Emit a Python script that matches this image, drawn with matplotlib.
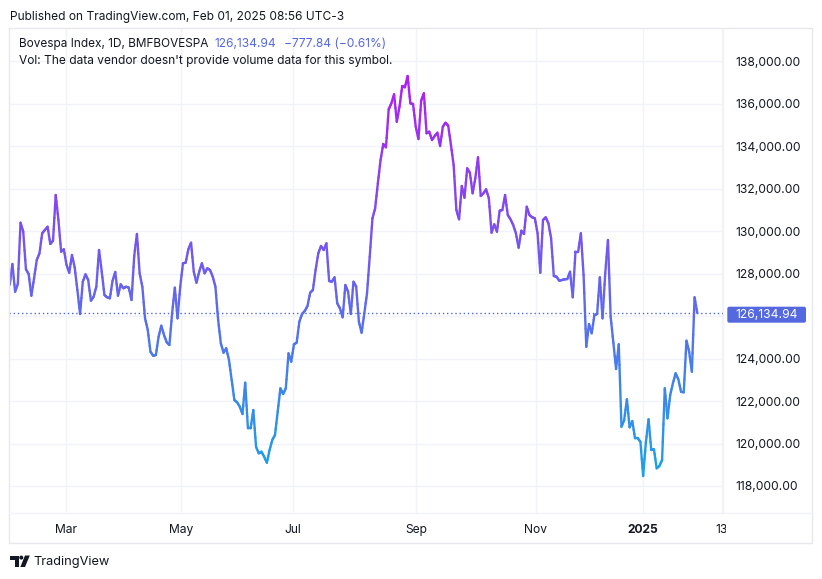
import numpy as np
import matplotlib
matplotlib.use("Agg")
import matplotlib.pyplot as plt
from matplotlib.collections import LineCollection
from matplotlib.colors import LinearSegmentedColormap, Normalize
from matplotlib.patches import Rectangle, FancyBboxPatch, Circle, Polygon
from matplotlib.transforms import Bbox, TransformedBbox, blended_transform_factory

# ---------------- data (daily closes, Bovespa, Feb 2024 - Jan 2025) ----------------
close_feb_apr = [
    127460, 128447, 127143, 127506, 130390, 129967, 128197, 127976, 126955, 127774,
    128635, 128950, 129892, 130047, 130202, 129388, 129543, 131694, 130517, 129026,
    129139, 128400, 128037, 128870, 128292, 127223, 126094, 127614, 127962, 127694,
    126720, 126908, 127379, 129106, 128084, 126988, 126880, 126833, 127661, 128070,
    126955, 127491, 127303, 127379, 127332, 126753, 128823, 129859, 128009, 127379,
    125891, 125341, 124320, 124131, 124164, 125026, 125543, 125106, 124762, 124635,
    126127, 127332, 125891, 127379,
]
close_may_jul = [
    128480, 128508, 129139, 129449, 128084, 127567, 128084, 128480, 128009, 128244,
    128164, 127849, 127379, 125811, 124715, 124273, 124480, 123929, 122988, 122047,
    121938, 121731, 121388, 122861, 120715, 120715, 121576, 119849, 119538, 119614,
    119378, 119096, 119694, 120164, 120400, 121496, 122597, 122329, 122597, 124244,
    123849, 124668, 124743, 125731, 126094, 126235, 126470, 127096, 127223, 128164,
    128950, 129294, 129106, 129421, 127647, 127614, 127821, 126597, 126362, 125938,
    127459, 127143, 126094, 127614,
]
close_aug_oct = [
    127379, 125731, 125214, 126127, 127068, 128790, 130597, 131068, 132245, 133341,
    134094, 133939, 135727, 136009, 136433, 135143, 135849, 136823, 136762, 137294,
    136009, 135976, 134908, 134329, 136132, 136480, 134598, 134673, 134282, 134470,
    134626, 134000, 134908, 135096, 134955, 134047, 133106, 130988, 130550, 132117,
    131567, 132950, 132743, 131774, 132480, 133468, 131647, 131774, 131962, 131539,
    129920, 130315, 129967, 130955, 130988, 131694, 130753, 130550, 130282, 129892,
    129214, 130014, 129859, 131143,
]
close_nov_jan = [
    130753, 130645, 130597, 129892, 128037, 130517, 130645, 130362, 129656, 127882,
    127849, 127661, 127694, 127727, 127741, 128084, 126880, 129026, 129026, 129892,
    127929, 124555, 125623, 125186, 126047, 126094, 127821, 125891, 128009, 129576,
    125967, 124743, 123506, 124668, 120790, 121105, 122080, 120762, 121058, 120244,
    120244, 120084, 118470, 120037, 121138, 119694, 119727, 118832, 118941, 119223,
    122597, 121185, 122282, 122833, 123303, 123021, 122437, 122409, 124837, 124320,
    123378, 126880, 126134.94,
]
close = close_feb_apr + close_may_jul + close_aug_oct + close_nov_jan

price_ticks = [118000, 120000, 122000, 124000, 126000, 128000,
               130000, 132000, 134000, 136000, 138000]
time_tick_bars = [20.8, 63.3, 104.7, 150.1, 194.4, 233.9, 263.1]
time_tick_labels = ["Mar", "May", "Jul", "Sep", "Nov", "2025", "13"]
last_price = 126134.94
change = -777.84
change_pct = -0.61

# ---------------- styling ----------------
W, H = 822, 579
FONT = ["Inter", "DejaVu Sans"]
plt.rcParams["font.family"] = FONT
TXT = "#131722"
GRID = "#f0f3fa"
BORDER = "#e6e8ee"
BLUE = "#5468e0"

fig = plt.figure(figsize=(W / 100, H / 100), dpi=100)
fig.patch.set_facecolor("white")

plot_l, plot_r, plot_t, plot_b = 9.0, 722.7, 28.0, 513.0
ax = fig.add_axes([plot_l / W, 1 - plot_b / H, (plot_r - plot_l) / W, (plot_b - plot_t) / H])
ax.set_facecolor("white")
for s in ax.spines.values():
    s.set_visible(False)

px_per_1000 = 21.25
ax.set_ylim(138000 - (plot_b - 61) / px_per_1000 * 1000,
            138000 + (61 - plot_t) / px_per_1000 * 1000)
bar_px = 2.707
ax.set_xlim((plot_l - 9.7) / bar_px, (plot_r - 9.7) / bar_px)

# grid
for v in price_ticks:
    ax.axhline(v, color=GRID, lw=1, zorder=0)
for b in time_tick_bars:
    ax.axvline(b, color=GRID, lw=1, zorder=0)

# gradient line
vals = np.asarray(close, dtype=float)
xs = np.arange(len(vals), dtype=float)
sub = 4
xx, yy = [], []
for i in range(len(vals) - 1):
    t = np.linspace(0, 1, sub, endpoint=False)
    xx.extend(xs[i] + t)
    yy.extend(vals[i] + (vals[i + 1] - vals[i]) * t)
xx.append(xs[-1]); yy.append(vals[-1])
xx = np.array(xx); yy = np.array(yy)
pts = np.column_stack([xx, yy]).reshape(-1, 1, 2)
segs = np.concatenate([pts[:-1], pts[1:]], axis=1)
cmap = LinearSegmentedColormap.from_list("tv", ["#1aa3e8", "#6a5ff0", "#b01ef2"])
norm = Normalize(vmin=vals.min(), vmax=vals.max())
mid = (yy[:-1] + yy[1:]) / 2
lc = LineCollection(segs, colors=cmap(norm(mid)), linewidths=1.7,
                    capstyle="round", joinstyle="round", zorder=3)
ax.add_collection(lc)

# last price dotted line
ax.axhline(last_price, color=BLUE, lw=1, linestyle=(0, (1, 2)), zorder=2)

# price axis labels (the one hidden behind the last-price tag is left out)
ax.yaxis.tick_right()
ax.set_yticks(price_ticks)
ax.set_yticklabels([
    "" if abs(v - last_price) < 700 else f"{v:,.2f}" for v in price_ticks
])
ax.tick_params(axis="y", length=0, pad=9, labelsize=8.7, labelcolor=TXT)
ax.set_xticks([])

# time axis labels (drawn as figure text so the last can be clipped)
clipbox = TransformedBbox(Bbox.from_extents(0, 0, 726 / W, 1), fig.transFigure)
btf = blended_transform_factory(ax.transData, fig.transFigure)
for b, lab in zip(time_tick_bars, time_tick_labels):
    t = fig.text(b, 1 - 530 / H, lab, transform=btf, ha="center", va="center",
                 fontsize=8.7, color=TXT,
                 fontweight="bold" if lab == "2025" else "normal")
    t.set_clip_box(clipbox)
    t.set_clip_on(True)

# overlay in pixel coords
fa = fig.add_axes([0, 0, 1, 1], zorder=5)
fa.set_xlim(0, W); fa.set_ylim(H, 0); fa.axis("off")

fa.add_patch(Rectangle((plot_l, plot_t), 812 - plot_l, 543 - plot_t,
                       fill=False, edgecolor=BORDER, lw=1))
fa.plot([plot_r, plot_r], [plot_t, plot_b], color=GRID, lw=1)
fa.plot([plot_l, 812], [plot_b, plot_b], color=GRID, lw=1)

# last price tag
fa.add_patch(FancyBboxPatch((727.3, 306.7), 78.7, 16, boxstyle="round,pad=0,rounding_size=2",
                            facecolor=BLUE, edgecolor="none"))
fa.text(766.6, 314.8, f"{last_price:,.2f}", ha="center", va="center",
        fontsize=8.7, color="white")

# header texts
fa.text(10, 17, "Published on TradingView.com, Feb 01, 2025 08:56 UTC-3",
        ha="left", va="center", fontsize=8.6, color=TXT)
fa.text(18.5, 44, "Bovespa Index, 1D, BMFBOVESPA", ha="left", va="center",
        fontsize=8.5, color=TXT)
fa.text(214.5, 44, f"{last_price:,.2f}", ha="left", va="center", fontsize=8.6, color=BLUE)
fa.text(283.5, 44, f"\u2212{abs(change):,.2f} (\u2212{abs(change_pct):.2f}%)",
        ha="left", va="center", fontsize=8.6, color=BLUE)
fa.text(18.5, 61, "Vol: The data vendor doesn't provide volume data for this symbol.",
        ha="left", va="center", fontsize=8.6, color=TXT)

# TradingView logo
fa.add_patch(Polygon([(10, 555.5), (18.5, 555.5), (18.5, 567), (14.5, 567), (14.5, 559.5), (10, 559.5)],
                     closed=True, facecolor=TXT, edgecolor="none"))
fa.add_patch(Circle((21.3, 557.6), 2.0, facecolor=TXT, edgecolor="none"))
fa.add_patch(Polygon([(25, 555.5), (29.8, 555.5), (25, 567), (20.3, 567)],
                     closed=True, facecolor=TXT, edgecolor="none"))
fa.text(33, 561.5, "TradingView", ha="left", va="center", fontsize=9.2, color=TXT)

fig.savefig("out.png", dpi=100, facecolor="white")
